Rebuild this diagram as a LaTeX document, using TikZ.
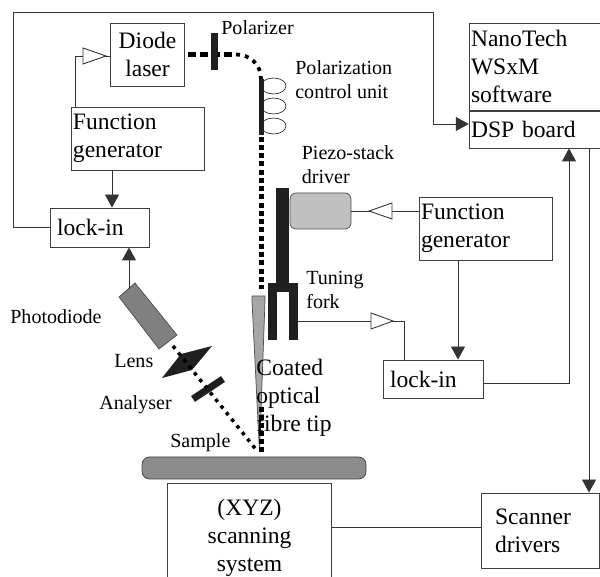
\documentclass[tikz,border=0pt]{standalone}
\usepackage{fontspec}
\setmainfont{Liberation Serif}
\usetikzlibrary{arrows.meta,shapes.geometric}
\tikzset{
  big/.style={font=\fontsize{13.4}{15.9}\selectfont},
  small/.style={font=\fontsize{11.4}{13.6}\selectfont,inner sep=0pt,align=left},
  box/.style={big,draw=black!75,line width=0.5pt,inner ysep=0pt,inner xsep=1pt,align=left},
  wire/.style={draw=black!80,line width=0.5pt},
  flow/.style={wire,-{Triangle[length=2.6mm,width=2.8mm]}},
  amp/.style={draw=black!80,fill=white,line width=0.5pt},
  beam/.style={line width=1mm,dash pattern=on 1mm off 0.65mm},
  solid black/.style={fill=black!88,draw=none},
}
\begin{document}
\begin{tikzpicture}[line join=miter]
\useasboundingbox (0,0) rectangle (12,11.54);
% boxes
\node[box,text width=1.42cm,minimum height=1.26cm,align=center] (diode) at (2.95,10.45) {Diode\\laser};
\node[box,text width=2.6cm,minimum height=1.26cm] (fungenA) at (2.76,8.77) {Function\\generator};
\node[box,text width=1.7cm,inner xsep=0.14cm,minimum height=0.78cm] (lockinA) at (1.99,6.99) {lock-in};
\node[box,text width=2.56cm,minimum height=1.74cm] (nano) at (10.7,10.21) {NanoTech\\WSxM\\software};
\node[box,text width=2.56cm,minimum height=0.74cm] (dsp) at (10.7,8.95) {DSP board};
\node[box,text width=2.6cm,minimum height=1.26cm] (fungenB) at (9.72,6.97) {Function\\generator};
\node[box,text width=1.72cm,inner xsep=0.14cm,minimum height=0.76cm] (lockinB) at (8.66,3.96) {lock-in};
\node[box,text width=1.8cm,inner xsep=0.28cm,minimum height=1.5cm] (drivers) at (10.8,0.93) {Scanner\\drivers};
\node[box,text width=3.2cm,minimum height=2.2cm,align=center] (xyz) at (4.99,0.78) {(XYZ)\\scanning\\system};
% sample
\node[draw=black!75,fill=black!45,rounded corners=1.5mm,minimum width=4.48cm,minimum height=0.44cm,inner sep=0pt] (sample) at (5.08,2.18) {};
% probe head
\node[draw=black!70,fill=black!25,rounded corners=1.2mm,minimum width=1.22cm,minimum height=0.72cm,inner sep=0pt] (piezo) at (6.41,7.32) {};
\fill[solid black] (5.52,7.78) rectangle (5.78,5.85);
\fill[solid black] (5.36,5.88) rectangle (5.96,4.74);
\fill[white] (5.54,5.70) rectangle (5.78,4.74);
\coordinate (fork) at (5.96,5.12);
% tip and fibre
\draw[draw=black!70,fill=black!35] (5.04,5.62) -- (5.30,5.62) -- (5.30,5.52) -- (5.19,2.50) -- (5.04,5.52) -- cycle;
\draw[beam] (5.22,9.96) -- (5.22,5.75);
\draw[line width=0.1cm,dash pattern=on 0.1cm off 0.06cm] (5.22,3.4) -- (5.22,2.48);
% laser path
\draw[line width=0.1cm,dash pattern=on 0.16cm off 0.08cm] (3.76,10.45) -- (4.72,10.45);
\draw[line width=0.075cm,dash pattern=on 0.08cm off 0.1cm] (4.72,10.45) .. controls (5.0,10.45) and (5.22,10.25) .. (5.22,9.96);
\fill[solid black] (4.22,10.88) rectangle (4.36,10.14);
% polarization control
\foreach \yy/\nn in {9.82/a,9.42/b,9.02/c}{
  \node[draw=black!80,ellipse,fill=white,minimum width=0.5cm,minimum height=0.32cm,inner sep=0pt] (loop\nn) at (5.47,\yy) {};
}
\fill[solid black] (5.18,9.96) rectangle (5.28,8.84);
% photodiode, lens, analyser
\draw[draw=black!70,fill=black!50] (2.38,5.6) -- (2.70,5.88) -- (3.54,4.84) -- (3.18,4.56) -- cycle;
\coordinate (photo) at (2.58,5.76);
\fill[solid black] (3.24,3.98) -- (3.62,4.46) -- (4.24,4.62) -- (3.84,4.14) -- cycle;
\draw[black!88,line width=0.14cm] (3.86,3.56) -- (4.46,3.96);
\draw[line width=0.07cm,dash pattern=on 0.07cm off 0.1cm] (3.46,4.62) -- (5.16,2.5);
% wires
\draw[wire] (lockinA.west) -- (0.26,6.99) coordinate (c1) |- (8.66,11.3) coordinate (c2) -- (8.66,9.06) coordinate (c3);
\draw[flow] (c3) -- (c3 -| dsp.west);
\draw[wire] (fungenA.north -| 1.5,0) |- (diode.west |- 0,10.42);
\draw[amp] (1.66,10.58) -- (2.12,10.42) -- (1.66,10.26) -- cycle;
\draw[flow] (fungenA.south -| 2.24,0) -- (lockinA.north -| 2.24,0);
\draw[flow] (photo) -- (lockinA.south -| photo);
\draw[wire] (piezo.east) -- (fungenB.west |- piezo.east);
\draw[amp] (7.84,7.48) -- (7.38,7.32) -- (7.84,7.16) -- cycle;
\draw[flow] (fungenB.south -| 9.16,0) -- (lockinB.north -| 9.16,0);
\draw[wire] (fork) -| (lockinB.north -| 8.08,0);
\draw[amp] (7.42,5.28) -- (7.86,5.12) -- (7.42,4.96) -- cycle;
\draw[flow] (lockinB.east |- 0,3.88) -| (dsp.south -| 11.38,0);
\draw[flow] (dsp.south -| 11.78,0) -- (drivers.north -| 11.78,0);
\draw[wire] (drivers.west |- 0,1.0) -- (xyz.east |- 0,1.0);
% labels
\node[small,anchor=west] (polarizer) at (4.42,10.98) {Polarizer};
\node[small,anchor=north west] (control) at (5.9,10.34) {Polarization\\control unit};
\node[small,anchor=north west] (driver) at (6.03,8.64) {Piezo-stack\\driver};
\node[small,anchor=north west] (tuning) at (6.12,6.12) {Tuning\\fork};
\node[small,anchor=west] (photodiode) at (0.2,5.2) {Photodiode};
\node[small,anchor=west] (lens) at (2.28,4.32) {Lens};
\node[small,anchor=west] (analyser) at (1.98,3.44) {Analyser};
\node[small,anchor=west] (samplelabel) at (3.4,2.68) {Sample};
\node[big,anchor=north west,inner sep=0pt,align=left] (coated) at (5.12,4.36) {Coated\\optical\\fibre tip};
\end{tikzpicture}
\end{document}
